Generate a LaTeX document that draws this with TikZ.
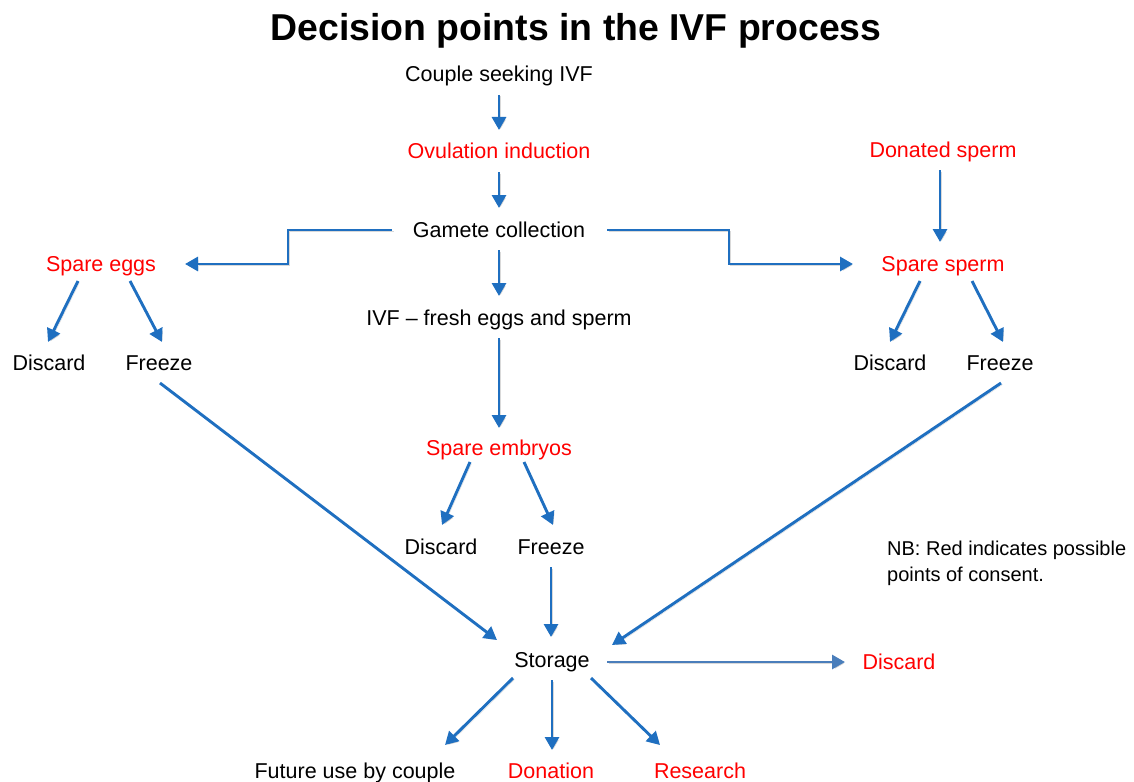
\documentclass[tikz,border=0pt]{standalone}
\usepackage{fontspec}
\setmainfont{Liberation Sans}
\usepackage{tikz}
\usetikzlibrary{arrows.meta,positioning,calc,shadows}

\definecolor{ivfblue}{HTML}{1F6FC0}
\definecolor{ivfsteel}{HTML}{4A7EBB}
\definecolor{ivfred}{HTML}{FF0000}

\tikzset{
  every node/.style={inner sep=0pt,text height=16pt,text depth=4pt,
    font=\fontsize{21.5}{26}\selectfont},
  consent/.style={text=ivfred},
  link/.style={->,line width=2.9pt,draw=ivfblue,
    >={Triangle[length=13pt,width=14pt]},
    preaction={draw=black!25,opacity=.6,
      transform canvas={shift={(1.5pt,-1.5pt)}}}}
}

\begin{document}
\begin{tikzpicture}[x=1pt,y=-1pt]
      \useasboundingbox (0,0) rectangle (1134,781);

      \node[font=\fontsize{37.4}{42}\selectfont\bfseries] (title) at (576,35) {Decision points in the IVF process};

      % main column
      \node (couple) at (499,76) {Couple seeking IVF};
      \node[consent] (ovul) at (499,152) {Ovulation induction};
      \node (gamete) at (499,231) {Gamete collection};
      \node (ivf) at (499,319) {IVF -- fresh eggs and sperm};
      \node[consent] (embryo) at (499,449) {Spare embryos};
      \node (edis) at (441,548) {Discard};
      \node (efrz) at (551,548) {Freeze};
      \node (storage) at (552,661) {Storage};

      % eggs
      \node[consent] (eggs) at (101,265) {Spare eggs};
      \node (ggdis) at (49,364) {Discard};
      \node (ggfrz) at (159,364) {Freeze};

      % sperm
      \node[consent] (donor) at (943,151) {Donated sperm};
      \node[consent] (sperm) at (943,265) {Spare sperm};
      \node (spdis) at (890,364) {Discard};
      \node (spfrz) at (1000,364) {Freeze};

      % outcomes
      \node (future) at (355,772) {Future use by couple};
      \node[consent] (donation) at (551,772) {Donation};
      \node[consent] (research) at (700,772) {Research};
      \node[consent] (sdis) at (899,663) {Discard};

      \node[anchor=north west,align=left,text height=,text depth=,
        font=\fontsize{20}{26}\selectfont] (nb) at (887,541)
        {NB: Red indicates possible\\points of consent.};

      \draw[link] ([shift={(0,19)}]couple.center) -- ([shift={(0,-22)}]ovul.center);
      \draw[link] ([shift={(0,20)}]ovul.center) -- ([shift={(0,-23)}]gamete.center);
      \draw[link] ([shift={(0,19)}]gamete.center) -- ([shift={(0,-23)}]ivf.center);
      \draw[link] ([shift={(0,19)}]ivf.center) -- ([shift={(0,-21)}]embryo.center);
      \draw[link] ([shift={(-29,13)}]embryo.center) -- ([shift={(1,-23)}]edis.center);
      \draw[link] ([shift={(25,13)}]embryo.center) -- ([shift={(2,-23)}]efrz.center);
      \draw[link] ([shift={(0,19)}]efrz.center) -- ([shift={(-1,-24)}]storage.center);

      \draw[link] ([shift={(-107,-1)}]gamete.center) -- ++(-104,0) |- ([shift={(84,-1)}]eggs.center);
      \draw[link] ([shift={(108,-1)}]gamete.center) -- ++(122,0) |- ([shift={(-90,-1)}]sperm.center);

      \draw[link] ([shift={(-23,16)}]eggs.center) -- ([shift={(-1,-22)}]ggdis.center);
      \draw[link] ([shift={(29,16)}]eggs.center) -- ([shift={(3,-22)}]ggfrz.center);
      \draw[link] ([shift={(1,19)}]ggfrz.center) -- ([shift={(-55,-21)}]storage.center);

      \draw[link] ([shift={(-3,19)}]donor.center) -- ([shift={(-3,-23)}]sperm.center);
      \draw[link] ([shift={(-23,16)}]sperm.center) -- ([shift={(0,-22)}]spdis.center);
      \draw[link] ([shift={(29,16)}]sperm.center) -- ([shift={(3,-22)}]spfrz.center);
      \draw[link] ([shift={(1,19)}]spfrz.center) -- ([shift={(60,-16)}]storage.center);

      \draw[link] ([shift={(-39,17)}]storage.center) -- ([shift={(90,-27)}]future.center);
      \draw[link] ([shift={(0,19)}]storage.center) -- ([shift={(1,-22)}]donation.center);
      \draw[link] ([shift={(39,17)}]storage.center) -- ([shift={(-40,-27)}]research.center);
      \draw[link,draw=ivfsteel] ([shift={(55,1)}]storage.center) -- ([shift={(-54,-1)}]sdis.center);
\end{tikzpicture}
\end{document}
